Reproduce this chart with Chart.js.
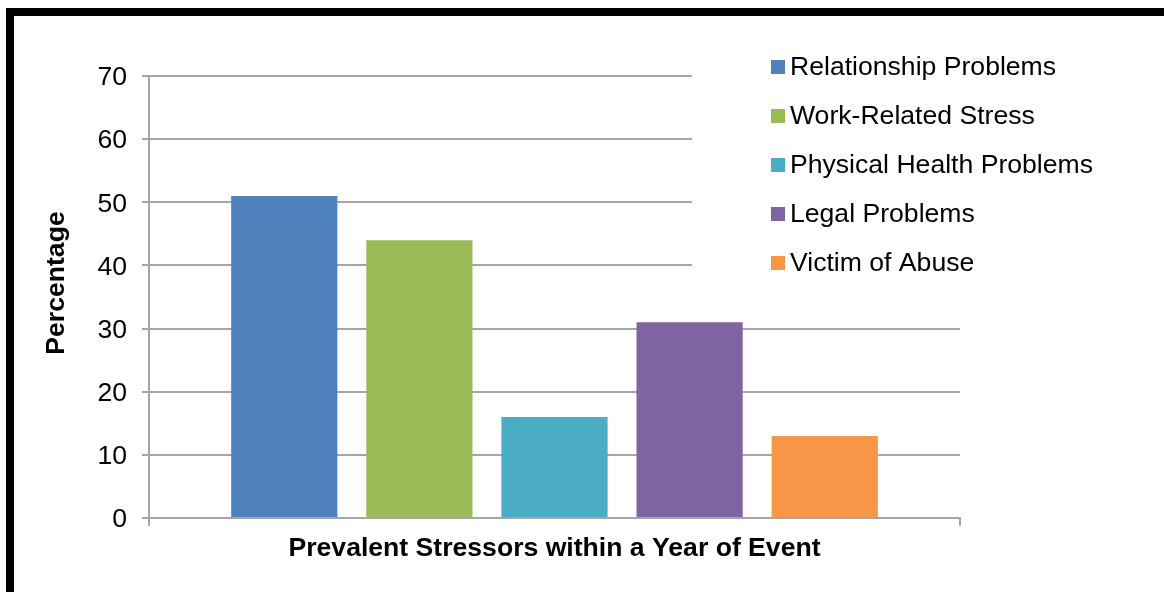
<!DOCTYPE html>
<html>
<head>
<meta charset="utf-8">
<title>Prevalent Stressors within a Year of Event</title>
<script src="https://cdn.jsdelivr.net/npm/chart.js@4/dist/chart.umd.min.js"></script>
<style>
  html, body { margin: 0; padding: 0; background: #fff; }
  #wrap { position: relative; width: 1164px; height: 592px; overflow: hidden; }
  #frame {
    position: absolute; left: 6px; top: 8px; right: -20px; bottom: -20px;
    border-top: 8px solid #000; border-left: 8px solid #000;
    pointer-events: none;
  }
</style>
</head>
<body>
<div id="wrap">
  <canvas id="chart" width="1164" height="592"></canvas>
  <div id="frame"></div>
</div>
<script>
const stressors = [
  "Relationship Problems",
  "Work-Related Stress",
  "Physical Health Problems",
  "Legal Problems",
  "Victim of Abuse",
];
const percentages = [51, 44, 16, 31, 13];
const barColors = ["#4f81bd", "#9bbb59", "#4bacc6", "#8064a2", "#f79646"];
const yTicks = [0, 10, 20, 30, 40, 50, 60, 70];

const FONT = "'Liberation Sans', Arial, sans-serif";
const SIZE = 26.6;
const GRID = "#a6a6a6";

// legend sits on a white box over the top-right of the plot, like the
// original office chart, so it hides the upper gridlines behind it
const boxLegend = {
  id: "boxLegend",
  afterDraw(chart) {
    const ctx = chart.ctx;
    ctx.save();
    ctx.fillStyle = "#fff";
    ctx.fillRect(692, 30, 472, 268);
    ctx.font = SIZE + "px " + FONT;
    ctx.textBaseline = "middle";
    chart.data.datasets.forEach((ds, i) => {
      const cy = 67 + i * 49;
      ctx.fillStyle = ds.backgroundColor;
      ctx.fillRect(771, cy - 7, 14, 14);
      ctx.fillStyle = "#000";
      ctx.fillText(ds.label, 790, cy + 1);
    });
    ctx.restore();
  },
};

// rotated y title, placed a little above the plot's middle
const yTitle = {
  id: "yTitle",
  afterDraw(chart) {
    const ctx = chart.ctx;
    ctx.save();
    ctx.translate(64, 283);
    ctx.rotate(-Math.PI / 2);
    ctx.font = "bold " + SIZE + "px " + FONT;
    ctx.fillStyle = "#000";
    ctx.textAlign = "center";
    ctx.textBaseline = "alphabetic";
    ctx.fillText("Percentage", 0, 0);
    ctx.restore();
  },
};

const ctx = document.getElementById("chart").getContext("2d");

new Chart(ctx, {
  type: "bar",
  data: {
    labels: [""],
    datasets: stressors.map((name, i) => ({
      label: name,
      data: [percentages[i]],
      backgroundColor: barColors[i],
      borderWidth: 0,
      categoryPercentage: 0.833,
      barPercentage: 0.786,
    })),
  },
  options: {
    responsive: false,
    animation: false,
    devicePixelRatio: 1,
    layout: { padding: { left: 0, top: 76, right: 204, bottom: 0 } },
    plugins: {
      legend: { display: false },
      tooltip: { enabled: false },
    },
    scales: {
      x: {
        grid: {
          drawOnChartArea: false,
          drawTicks: true,
          tickLength: 8,
          color: GRID,
          lineWidth: 2,
        },
        border: { display: true, color: GRID, width: 2 },
        ticks: { display: false },
        title: {
          display: true,
          text: "Prevalent Stressors within a Year of Event",
          color: "#000",
          font: { family: FONT, size: SIZE, weight: "bold" },
          padding: { top: 0, bottom: 27 },
        },
        afterFit(scale) { scale.height = 74; },
      },
      y: {
        min: 0,
        max: 70,
        afterBuildTicks(scale) {
          scale.ticks = yTicks.map((v) => ({ value: v }));
        },
        grid: {
          color: GRID,
          lineWidth: 2,
          drawTicks: true,
          tickLength: 7,
        },
        border: { display: true, color: GRID, width: 2 },
        ticks: {
          padding: 15,
          labelOffset: 2,
          color: "#000",
          font: { family: FONT, size: SIZE },
        },
        afterFit(scale) { scale.width = 149; },
      },
    },
  },
  plugins: [boxLegend, yTitle],
});
</script>
</body>
</html>
